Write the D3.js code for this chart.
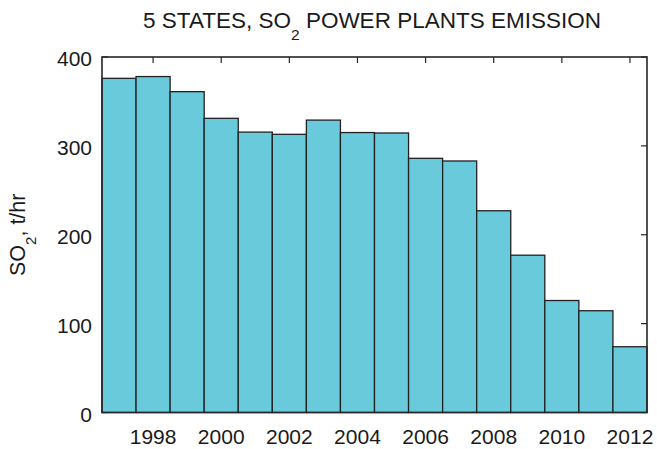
<!DOCTYPE html>
<html>
<head>
<meta charset="utf-8">
<script src="https://cdn.jsdelivr.net/npm/d3@7"></script>
<style>
  html, body { margin: 0; padding: 0; background: #fff; }
  svg { display: block; font-family: "Liberation Sans", Arial, Helvetica, sans-serif; }
</style>
</head>
<body>
<svg id="chart" width="657" height="449"></svg>
<script>
const years = [1997, 1998, 1999, 2000, 2001, 2002, 2003, 2004, 2005, 2006, 2007, 2008, 2009, 2010, 2011, 2012];
const so2 = [376, 378, 361, 331, 315.5, 313, 329, 315, 314.5, 286, 283, 227, 177, 126, 114.5, 74];
const xTicks = [1998, 2000, 2002, 2004, 2006, 2008, 2010, 2012];
const yTicks = [0, 100, 200, 300, 400];

const svg = d3.select("#chart");
const m = { left: 102, right: 647, top: 57, bottom: 412.5 };
const x = d3.scaleLinear().domain([1996.5, 2012.5]).range([m.left, m.right]);
const y = d3.scaleLinear().domain([0, 400]).range([m.bottom, m.top]);
const axisColor = "#262626";
const tickLen = 6;

// ticks (under bars)
const tg = svg.append("g").attr("stroke", axisColor).attr("stroke-width", 1.2);
xTicks.forEach(t => {
  tg.append("line").attr("x1", x(t)).attr("x2", x(t)).attr("y1", m.top).attr("y2", m.top + tickLen);
  tg.append("line").attr("x1", x(t)).attr("x2", x(t)).attr("y1", m.bottom).attr("y2", m.bottom - tickLen);
});
yTicks.forEach(t => {
  tg.append("line").attr("x1", m.left).attr("x2", m.left + tickLen).attr("y1", y(t)).attr("y2", y(t));
  tg.append("line").attr("x1", m.right).attr("x2", m.right - tickLen).attr("y1", y(t)).attr("y2", y(t));
});

// bars
svg.append("g").selectAll("rect").data(years).join("rect")
  .attr("x", (d) => x(d - 0.5))
  .attr("width", (d) => x(d + 0.5) - x(d - 0.5))
  .attr("y", (d, i) => y(so2[i]))
  .attr("height", (d, i) => y(0) - y(so2[i]))
  .attr("fill", "#69cadb")
  .attr("stroke", "#222")
  .attr("stroke-width", 1.3);

// frame
svg.append("rect")
  .attr("x", m.left).attr("y", m.top)
  .attr("width", m.right - m.left).attr("height", m.bottom - m.top)
  .attr("fill", "none").attr("stroke", axisColor).attr("stroke-width", 1.6);

// tick labels
const fs = 21;
svg.append("g").selectAll("text").data(xTicks).join("text")
  .attr("x", d => x(d)).attr("y", 444)
  .attr("text-anchor", "middle").attr("font-size", fs).attr("fill", "#1a1a1a")
  .text(d => d);
svg.append("g").selectAll("text").data(yTicks).join("text")
  .attr("x", 92).attr("y", d => y(d) + 9)
  .attr("text-anchor", "end").attr("font-size", fs).attr("fill", "#1a1a1a")
  .text(d => d);

// title
const title = svg.append("text").attr("x", 372).attr("y", 28)
  .attr("text-anchor", "middle").attr("font-size", 22.5).attr("fill", "#1a1a1a");
title.append("tspan").text("5 STATES, SO");
title.append("tspan").attr("font-size", 15.5).attr("dy", 12).text("2");
title.append("tspan").attr("dy", -12).text(" POWER PLANTS EMISSION");

// y label
const yl = svg.append("text")
  .attr("transform", `translate(25, ${(m.top + m.bottom) / 2}) rotate(-90)`)
  .attr("text-anchor", "middle").attr("font-size", 21.5).attr("fill", "#1a1a1a");
yl.append("tspan").text("SO");
yl.append("tspan").attr("font-size", 15).attr("dy", 11).text("2");
yl.append("tspan").attr("dy", -11).text(", t/hr");
</script>
</body>
</html>
